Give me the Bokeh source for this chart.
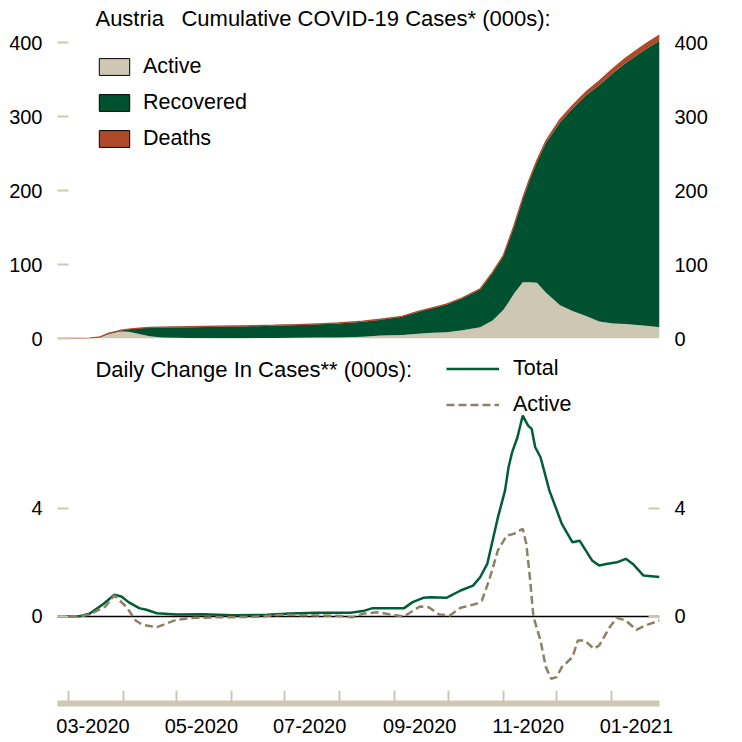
import pandas as pd
from bokeh.plotting import figure
from bokeh.models import (ColumnDataSource, LinearAxis, FixedTicker, DatetimeTickFormatter,
                          Legend, LegendItem, Label, Span, Range1d)
from bokeh.layouts import column
from bokeh.embed import file_html
from bokeh.resources import INLINE

# ---------------- data (thousands) ----------------
cum_dates = ["2020-02-24", "2020-03-08", "2020-03-13", "2020-03-19", "2020-03-24", "2020-03-30",
             "2020-04-04", "2020-04-10", "2020-04-16", "2020-04-23", "2020-05-08", "2020-05-25",
             "2020-06-10", "2020-06-25", "2020-07-08", "2020-07-20", "2020-07-31", "2020-08-14",
             "2020-08-24", "2020-09-05", "2020-09-14", "2020-09-22", "2020-09-30", "2020-10-09",
             "2020-10-19", "2020-10-26", "2020-11-01", "2020-11-04", "2020-11-07", "2020-11-12",
             "2020-11-16", "2020-11-20", "2020-11-25", "2020-12-03", "2020-12-10", "2020-12-18",
             "2020-12-25", "2021-01-02", "2021-01-09", "2021-01-17", "2021-01-22", "2021-01-28"]
cum_total = [0.0, 0.1, 0.5, 2.3, 7.2, 10.8, 12.6, 14.0, 15.0, 15.4, 15.9, 16.6,
             17.2, 18.0, 18.8, 19.9, 21.0, 23.4, 26.0, 30.0, 36.5, 41.5, 46.5, 55.1,
             67.1, 89.6, 112.0, 132.0, 152.0, 190.0, 217.0, 241.0, 267.0, 296.0, 315.0, 334.3,
             348.0, 365.2, 379.0, 393.0, 401.0, 410.0]
cum_active = [0.0, 0.1, 0.5, 2.1, 6.0, 9.3, 9.0, 6.0, 3.0, 1.5, 0.7, 0.5,
              0.5, 0.8, 1.0, 1.3, 1.5, 2.5, 4.0, 4.8, 6.5, 7.8, 8.6, 11.0,
              15.3, 24.3, 38.5, 49.0, 60.4, 76.1, 76.0, 75.5, 62.0, 45.0, 37.0, 30.0,
              23.0, 20.3, 19.7, 18.0, 17.0, 15.3]
cum_deaths = [0.0, 0.0, 0.0, 0.01, 0.03, 0.1, 0.2, 0.3, 0.4, 0.5, 0.6, 0.65,
              0.67, 0.7, 0.7, 0.71, 0.72, 0.73, 0.73, 0.75, 0.76, 0.78, 0.8, 0.85,
              0.95, 1.05, 1.2, 1.35, 1.5, 1.85, 2.15, 2.5, 2.9, 3.6, 4.3, 5.0,
              5.6, 6.2, 6.7, 7.1, 7.4, 7.6]

total_dates = ["2020-02-24", "2020-03-08", "2020-03-13", "2020-03-21", "2020-03-27", "2020-03-31",
               "2020-04-04", "2020-04-10", "2020-04-14", "2020-04-20", "2020-05-01", "2020-05-16",
               "2020-06-02", "2020-06-21", "2020-07-04", "2020-07-19", "2020-08-07", "2020-08-14",
               "2020-08-19", "2020-08-30", "2020-09-06", "2020-09-11", "2020-09-17", "2020-09-21",
               "2020-09-30", "2020-10-08", "2020-10-15", "2020-10-19", "2020-10-23", "2020-10-26",
               "2020-10-29", "2020-11-02", "2020-11-04", "2020-11-06", "2020-11-09", "2020-11-12",
               "2020-11-15", "2020-11-17", "2020-11-19", "2020-11-22", "2020-11-27", "2020-12-04",
               "2020-12-10", "2020-12-14", "2020-12-21", "2020-12-25", "2020-12-29", "2021-01-04",
               "2021-01-09", "2021-01-13", "2021-01-19", "2021-01-28"]
total_change = [0.0, 0.02, 0.10, 0.47, 0.80, 0.74,
                0.53, 0.31, 0.25, 0.12, 0.07, 0.08,
                0.05, 0.06, 0.11, 0.14, 0.14, 0.20,
                0.30, 0.30, 0.30, 0.53, 0.69, 0.71,
                0.69, 0.96, 1.14, 1.45, 1.94, 2.80,
                3.66, 4.65, 5.51, 6.06, 6.62, 7.42,
                7.05, 6.93, 6.25, 5.88, 4.65, 3.42,
                2.74, 2.80, 2.07, 1.88, 1.94, 2.00,
                2.13, 1.94, 1.51, 1.46]

active_dates = ["2020-02-24", "2020-03-08", "2020-03-13", "2020-03-22", "2020-03-27", "2020-04-03",
                "2020-04-08", "2020-04-12", "2020-04-20", "2020-04-25", "2020-05-01", "2020-05-11",
                "2020-05-24", "2020-06-11", "2020-06-30", "2020-07-19", "2020-08-01", "2020-08-08",
                "2020-08-14", "2020-08-22", "2020-08-30", "2020-09-06", "2020-09-15", "2020-09-20",
                "2020-09-26", "2020-10-02", "2020-10-08", "2020-10-17", "2020-10-20", "2020-10-24",
                "2020-10-29", "2020-11-03", "2020-11-07", "2020-11-12", "2020-11-14", "2020-11-16",
                "2020-11-18", "2020-11-22", "2020-11-25", "2020-11-28", "2020-12-01", "2020-12-04",
                "2020-12-10", "2020-12-13", "2020-12-17", "2020-12-22", "2020-12-25", "2020-12-31",
                "2021-01-04", "2021-01-09", "2021-01-15", "2021-01-20", "2021-01-28"]
active_change = [0.0, 0.01, 0.07, 0.37, 0.78, 0.34,
                 -0.15, -0.31, -0.39, -0.27, -0.12, -0.05,
                 -0.03, -0.02, 0.06, 0.04, 0.02, -0.03,
                 0.10, 0.16, 0.07, 0.0, 0.37, 0.34,
                 0.07, 0.04, 0.32, 0.47, 0.59, 1.33,
                 2.44, 2.99, 3.05, 3.24, 2.68, 1.45,
                 0.0, -0.89, -1.87, -2.30, -2.24, -1.87,
                 -1.50, -0.89, -0.89, -1.19, -1.07, -0.39,
                 -0.05, -0.15, -0.49, -0.33, -0.15]

label_dates = ["2020-03-15", "2020-05-15", "2020-07-15", "2020-09-15", "2020-11-15", "2021-01-15"]
month_starts = ["2020-03-01", "2020-04-01", "2020-05-01", "2020-06-01", "2020-07-01", "2020-08-01",
                "2020-09-01", "2020-10-01", "2020-11-01", "2020-12-01", "2021-01-01"]
cum_ticks = [0, 100, 200, 300, 400]
change_ticks = [0, 4]

# ---------------- style ----------------
FONT = "Liberation Sans"
FS = "20px"
FS_LEG = "21.5px"
FS_TITLE = "22px"
TAN = "#CEC7B4"
GREEN = "#00512F"
GREEN_LINE = "#005E37"
RUST = "#B0482A"
DASH = "#8D8163"


def ms(d):
    return pd.Timestamp(d).timestamp() * 1000.0


x_start, x_end = pd.Timestamp("2020-02-24"), pd.Timestamp("2021-01-28")


def style_y(ax, ticks, show_ticks=True):
    ax.ticker = FixedTicker(ticks=ticks)
    ax.axis_line_color = None
    ax.major_tick_in = 11
    ax.major_tick_out = 0
    ax.major_tick_line_color = TAN if show_ticks else None
    ax.major_tick_line_width = 2
    ax.minor_tick_line_color = None
    ax.major_label_text_font = FONT
    ax.major_label_text_font_size = FS
    ax.major_label_text_color = "black"
    ax.major_label_standoff = 15


def text_label(x, y, text):
    return Label(x=ms(x), y=y, text=text, text_font=FONT, text_font_size=FS_TITLE,
                 text_color="black", text_baseline="middle", text_align="left")


# ---------------- top: cumulative ----------------
xr1 = Range1d(start=x_start, end=x_end)
p1 = figure(width=740, height=348, x_range=xr1, y_range=Range1d(0, 456.8),
            x_axis_type="datetime", x_axis_location=None,
            output_backend="svg", toolbar_location=None,
            min_border_left=57, min_border_right=81, min_border_top=0, min_border_bottom=10)
p1.outline_line_color = None
p1.grid.visible = False

recovered = [t - a - d for t, a, d in zip(cum_total, cum_active, cum_deaths)]
src1 = ColumnDataSource(dict(date=pd.to_datetime(cum_dates), active=cum_active,
                             recovered=recovered, deaths=cum_deaths, total=cum_total))

# legend swatches: zero-size rects (nothing visible in the plot), outlined boxes in the legend
swatches = []
for c in [TAN, GREEN, RUST]:
    swatches.append(p1.rect(x="date", y="active", width=0, height=0, source=src1,
                            fill_color=c, line_color="black", line_width=1))

p1.varea_stack(["active", "recovered", "deaths"], x="date", color=[TAN, GREEN, RUST], source=src1)
p1.line(x="date", y="total", source=src1, line_color=RUST, line_width=1.3)

style_y(p1.yaxis[0], cum_ticks)
ax1r = LinearAxis()
style_y(ax1r, cum_ticks, show_ticks=False)
p1.add_layout(ax1r, "right")

leg1 = Legend(items=[LegendItem(label="Active", renderers=[swatches[0]]),
                     LegendItem(label="Recovered", renderers=[swatches[1]]),
                     LegendItem(label="Deaths", renderers=[swatches[2]])],
              location=(38, 187), glyph_width=38, glyph_height=21, label_height=25,
              spacing=11, padding=0, margin=0, label_standoff=10,
              border_line_color=None, background_fill_alpha=0,
              label_text_font=FONT, label_text_font_size=FS_LEG, label_text_color="black")
p1.add_layout(leg1)

p1.add_layout(text_label("2020-03-16 09:00", 433.1, "Austria"))
p1.add_layout(text_label("2020-05-03 19:00", 433.1, "Cumulative COVID-19 Cases* (000s):"))

# ---------------- bottom: daily change ----------------
p2 = figure(width=740, height=393, x_range=xr1, y_range=Range1d(-3.213, 9.749),
            x_axis_type="datetime", output_backend="svg", toolbar_location=None,
            min_border_left=57, min_border_right=81, min_border_top=4, min_border_bottom=38)
p2.outline_line_color = None
p2.grid.visible = False

p2.add_layout(Span(location=0, dimension="width", line_color="black", line_width=1.5, level="underlay"))

l_tot = p2.line(x=pd.to_datetime(total_dates), y=total_change, line_color=GREEN_LINE, line_width=2.5)
l_act = p2.line(x=pd.to_datetime(active_dates), y=active_change, line_color=DASH, line_width=2.5,
                line_dash="8 4")

style_y(p2.yaxis[0], change_ticks)
ax2r = LinearAxis()
style_y(ax2r, change_ticks)
p2.add_layout(ax2r, "right")

xa = p2.xaxis[0]
xa.ticker = FixedTicker(ticks=[ms(d) for d in label_dates], minor_ticks=[ms(d) for d in month_starts])
fmt = "%m-%Y"
xa.formatter = DatetimeTickFormatter(microseconds=fmt, milliseconds=fmt, seconds=fmt, minsec=fmt,
                                     minutes=fmt, hourmin=fmt, hours=fmt, days=fmt, months=fmt,
                                     years=fmt, strip_leading_zeros=False)
xa.axis_line_color = TAN
xa.axis_line_width = 6
xa.major_tick_line_color = None
xa.major_tick_in = 0
xa.major_tick_out = 0
xa.minor_tick_line_color = TAN
xa.minor_tick_line_width = 2
xa.minor_tick_in = 13
xa.minor_tick_out = 0
xa.major_label_text_font = FONT
xa.major_label_text_font_size = FS
xa.major_label_text_color = "black"
xa.major_label_standoff = 15

leg2 = Legend(items=[LegendItem(label="Total", renderers=[l_tot]),
                     LegendItem(label="Active", renderers=[l_act])],
              location=(389, 286), glyph_width=53, glyph_height=25, label_height=25,
              spacing=11, padding=0, margin=0, label_standoff=14,
              border_line_color=None, background_fill_alpha=0,
              label_text_font=FONT, label_text_font_size=FS_LEG, label_text_color="black")
p2.add_layout(leg2)

p2.add_layout(text_label("2020-03-16 09:00", 9.13, "Daily Change In Cases** (000s):"))

layout = column(p1, p2, spacing=0)
open("out.html", "w").write(file_html(layout, INLINE))
